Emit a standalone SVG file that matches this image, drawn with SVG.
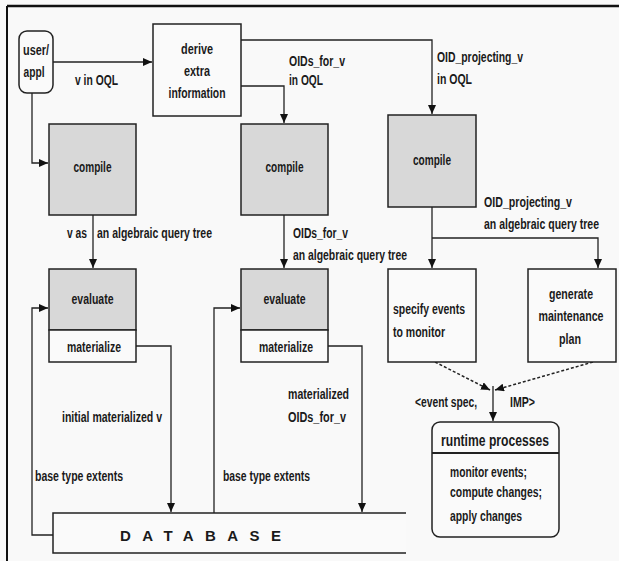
<svg xmlns="http://www.w3.org/2000/svg" width="619" height="561" viewBox="0 0 619 561">
<style>
.t{font-family:"Liberation Sans",Arial,Helvetica,sans-serif;font-weight:bold;font-size:14px;fill:#1a1a1a}
.c{text-anchor:middle}
.box{fill:#fafafa;stroke:#222;stroke-width:1.5}
.gray{fill:#d8d8d8;stroke:#222;stroke-width:1.5}
.ln{fill:none;stroke:#222;stroke-width:1.3}
.dash{fill:none;stroke:#222;stroke-width:1.5;stroke-dasharray:3 2}
</style>
<defs>
<marker id="ah" markerWidth="9" markerHeight="8" refX="9" refY="4" orient="auto" markerUnits="userSpaceOnUse">
<path d="M0,0 L9,4 L0,8 Z" fill="#111"/>
</marker>
</defs>
<rect x="0" y="0" width="619" height="561" fill="#f9f9f9"/>
<g id="frame">
<line x1="7" y1="6" x2="619" y2="6" stroke="#111" stroke-width="2.5"/>
<line x1="7" y1="6" x2="7" y2="561" stroke="#111" stroke-width="2"/>
</g>

<g id="connectors">
<path class="ln" d="M53,62 H152" marker-end="url(#ah)"/>
<path class="ln" d="M32,93 V163 H48" marker-end="url(#ah)"/>
<path class="ln" d="M241,86 H284 V123" marker-end="url(#ah)"/>
<path class="ln" d="M241,40 H432 V114" marker-end="url(#ah)"/>
<path class="ln" d="M93,215 V268" marker-end="url(#ah)"/>
<path class="ln" d="M284,215 V268" marker-end="url(#ah)"/>
<path class="ln" d="M432,207 V268" marker-end="url(#ah)"/>
<path class="ln" d="M432,238 H598 V268" marker-end="url(#ah)"/>
<path class="ln" d="M53,535 H32 V308 H48" marker-end="url(#ah)"/>
<path class="ln" d="M214,513 V308 H240" marker-end="url(#ah)"/>
<path class="ln" d="M136,346 H171 V512" marker-end="url(#ah)"/>
<path class="ln" d="M328,346 H362 V512" marker-end="url(#ah)"/>
<path class="dash" d="M435,362 L490,390" marker-end="url(#ah)"/>
<path class="dash" d="M593,362 L495,390" marker-end="url(#ah)"/>
<path class="ln" d="M493,386 V421" marker-end="url(#ah)"/>
</g>

<g id="user">
<rect class="box" x="19" y="31" width="34" height="62" rx="8"/>
<text class="t c" x="36" y="55" textLength="26" lengthAdjust="spacingAndGlyphs">user/</text>
<text class="t c" x="34" y="77" textLength="21" lengthAdjust="spacingAndGlyphs">appl</text>
</g>

<g id="derive">
<rect class="box" x="153" y="24" width="88" height="92"/>
<text class="t c" x="197" y="54" textLength="32" lengthAdjust="spacingAndGlyphs">derive</text>
<text class="t c" x="197" y="76" textLength="26" lengthAdjust="spacingAndGlyphs">extra</text>
<text class="t c" x="197" y="98" textLength="57" lengthAdjust="spacingAndGlyphs">information</text>
</g>

<g id="compile1">
<rect class="gray" x="49" y="124" width="87" height="91"/>
<text class="t c" x="92.5" y="172" textLength="38" lengthAdjust="spacingAndGlyphs">compile</text>
</g>
<g id="compile2">
<rect class="gray" x="241" y="124" width="87" height="91"/>
<text class="t c" x="284.5" y="172" textLength="38" lengthAdjust="spacingAndGlyphs">compile</text>
</g>
<g id="compile3">
<rect class="gray" x="388" y="115" width="88" height="92"/>
<text class="t c" x="432" y="165" textLength="38" lengthAdjust="spacingAndGlyphs">compile</text>
</g>

<g id="evaluate1">
<rect class="gray" x="49" y="269" width="87" height="61"/>
<rect class="box" x="49" y="330" width="87" height="32"/>
<text class="t c" x="92.5" y="304" textLength="42" lengthAdjust="spacingAndGlyphs">evaluate</text>
<text class="t c" x="94" y="352" textLength="54" lengthAdjust="spacingAndGlyphs">materialize</text>
</g>
<g id="evaluate2">
<rect class="gray" x="241" y="269" width="87" height="61"/>
<rect class="box" x="241" y="330" width="87" height="32"/>
<text class="t c" x="284.5" y="304" textLength="42" lengthAdjust="spacingAndGlyphs">evaluate</text>
<text class="t c" x="286" y="352" textLength="54" lengthAdjust="spacingAndGlyphs">materialize</text>
</g>

<g id="specify">
<rect class="box" x="388" y="269" width="88" height="93"/>
<text class="t" x="393" y="314" textLength="72" lengthAdjust="spacingAndGlyphs">specify events</text>
<text class="t" x="393" y="337" textLength="52" lengthAdjust="spacingAndGlyphs">to monitor</text>
</g>

<g id="generate">
<rect class="box" x="528" y="269" width="88" height="93"/>
<text class="t c" x="571" y="299" textLength="44" lengthAdjust="spacingAndGlyphs">generate</text>
<text class="t c" x="571" y="321" textLength="65" lengthAdjust="spacingAndGlyphs">maintenance</text>
<text class="t c" x="570" y="344" textLength="22" lengthAdjust="spacingAndGlyphs">plan</text>
</g>

<g id="runtime">
<rect class="box" x="432" y="422" width="127" height="115" rx="8"/>
<line x1="432" y1="453" x2="559" y2="453" stroke="#222" stroke-width="2"/>
<text class="t c" x="495" y="446" textLength="108" lengthAdjust="spacingAndGlyphs" style="font-size:17px">runtime processes</text>
<text class="t" x="450" y="477" textLength="77" lengthAdjust="spacingAndGlyphs">monitor events;</text>
<text class="t" x="450" y="497" textLength="92" lengthAdjust="spacingAndGlyphs">compute changes;</text>
<text class="t" x="450" y="521" textLength="72" lengthAdjust="spacingAndGlyphs">apply changes</text>
</g>

<g id="database">
<path d="M406,513 H53 V553 H406" fill="#fafafa" stroke="#222" stroke-width="1.5"/>
<text class="t" x="120" y="541" style="font-size:15px" textLength="161" lengthAdjust="spacing">DATABASE</text>
</g>

<g id="labels">
<text class="t" x="75" y="85" textLength="43" lengthAdjust="spacingAndGlyphs">v in OQL</text>
<text class="t" x="289" y="66" textLength="56" lengthAdjust="spacingAndGlyphs">OIDs_for_v</text>
<text class="t" x="289" y="85" textLength="34" lengthAdjust="spacingAndGlyphs">in OQL</text>
<text class="t" x="437" y="62" textLength="86" lengthAdjust="spacingAndGlyphs">OID_projecting_v</text>
<text class="t" x="437" y="84" textLength="35" lengthAdjust="spacingAndGlyphs">in OQL</text>
<text class="t" x="67" y="238" textLength="20" lengthAdjust="spacingAndGlyphs">v as</text>
<text class="t" x="97" y="238" textLength="115" lengthAdjust="spacingAndGlyphs">an algebraic query tree</text>
<text class="t" x="293" y="238" textLength="55" lengthAdjust="spacingAndGlyphs">OIDs_for_v</text>
<text class="t" x="293" y="260" textLength="114" lengthAdjust="spacingAndGlyphs">an algebraic query tree</text>
<text class="t" x="484" y="207" textLength="88" lengthAdjust="spacingAndGlyphs">OID_projecting_v</text>
<text class="t" x="484" y="229" textLength="115" lengthAdjust="spacingAndGlyphs">an algebraic query tree</text>
<text class="t" x="62" y="422" textLength="100" lengthAdjust="spacingAndGlyphs">initial materialized v</text>
<text class="t" x="35" y="481" textLength="88" lengthAdjust="spacingAndGlyphs">base type extents</text>
<text class="t" x="223" y="481" textLength="87" lengthAdjust="spacingAndGlyphs">base type extents</text>
<text class="t" x="288" y="399" textLength="61" lengthAdjust="spacingAndGlyphs">materialized</text>
<text class="t" x="288" y="422" textLength="58" lengthAdjust="spacingAndGlyphs">OIDs_for_v</text>
<text class="t" x="415" y="407" textLength="62" lengthAdjust="spacingAndGlyphs">&lt;event spec,</text>
<text class="t" x="510" y="407" textLength="25" lengthAdjust="spacingAndGlyphs">IMP&gt;</text>
</g>
</svg>
